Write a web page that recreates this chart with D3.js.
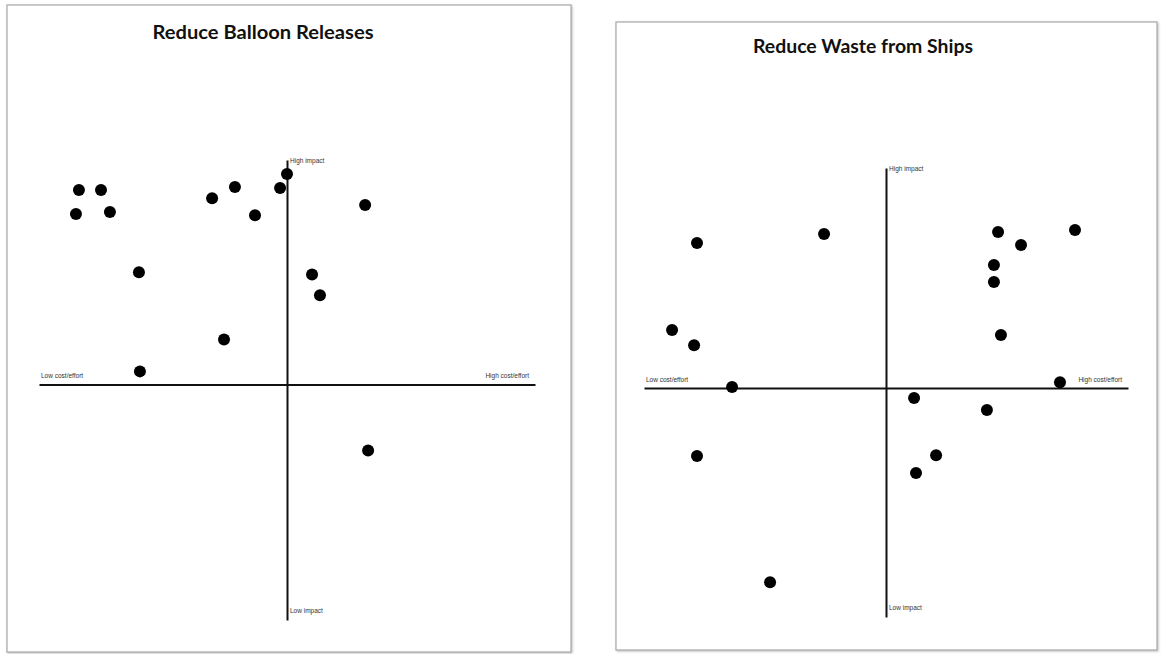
<!DOCTYPE html>
<html>
<head>
<meta charset="utf-8">
<script src="https://cdn.jsdelivr.net/npm/d3@7"></script>
<style>
  html, body { margin: 0; padding: 0; background: #fff; }
  svg { display: block; }
</style>
</head>
<body>
<svg id="chart" width="1164" height="654"></svg>
<script>
// ---- Data ----
const titles = ["Reduce Balloon Releases", "Reduce Waste from Ships"];
const axisLabels = { lowX: "Low cost/effort", highX: "High cost/effort", highY: "High impact", lowY: "Low impact" };

// Balloon releases: x = cost/effort, y = impact
const balloonX = [-8.39, -7.5, -8.51, -7.14, -5.97, -5.93, -3.02, -2.1, -1.29, -2.54, -0.28, 0.0, 1.01, 1.33, 3.15, 3.27];
const balloonY = [8.66, 8.66, 7.59, 7.68, 5.0, 0.58, 8.3, 8.8, 7.54, 2.0, 8.75, 9.38, 4.9, 3.97, 7.99, -2.95];

// Waste from ships
const shipsX = [-7.81, -2.56, -8.84, -7.93, -6.36, -7.81, -4.79, 1.16, 2.07, 1.24, 4.63, 5.58, 4.46, 4.46, 4.75, 7.81, 7.19, 4.17];
const shipsY = [6.59, 7.0, 2.64, 1.95, 0.05, -3.09, -8.82, -0.45, -3.05, -3.86, 7.09, 6.5, 5.59, 4.82, 2.41, 7.18, 0.27, -1.0];

const xDomain = [-10, 10];
const yDomainLeft = [-10.5, 10];
const yDomainRight = [-10.4, 10];

// ---- Layout ----
const panels = [
  { box: [7, 5, 564, 647], title: titles[0], titleX: 263, titleY: 39, titleW: 221,
    xr: [39, 535], yr: [620, 160], yDom: yDomainLeft, xs: balloonX, ys: balloonY },
  { box: [616, 22, 541, 628], title: titles[1], titleX: 863, titleY: 53, titleW: 220,
    xr: [644, 1128], yr: [617, 168], yDom: yDomainRight, xs: shipsX, ys: shipsY }
];

const svg = d3.select("#chart");
const defs = svg.append("defs");
const f = defs.append("filter").attr("id", "shadow").attr("x", "-5%").attr("y", "-5%").attr("width", "110%").attr("height", "110%");
f.append("feDropShadow").attr("dx", 1).attr("dy", 1).attr("stdDeviation", 1).attr("flood-color", "#999").attr("flood-opacity", 0.6);

panels.forEach(p => {
  const g = svg.append("g");
  const [bx, by, bw, bh] = p.box;
  g.append("rect").attr("x", bx).attr("y", by).attr("width", bw).attr("height", bh)
    .attr("fill", "#fff").attr("stroke", "#a8a8a8").attr("stroke-width", 1.2)
    .attr("filter", "url(#shadow)");

  g.append("text").attr("x", p.titleX).attr("y", p.titleY)
    .attr("text-anchor", "middle")
    .attr("font-family", "Lato, 'Open Sans', sans-serif").attr("font-weight", "bold")
    .attr("font-size", 18).attr("fill", "#111")
    .attr("textLength", p.titleW).attr("lengthAdjust", "spacingAndGlyphs")
    .text(p.title);

  const x = d3.scaleLinear().domain(xDomain).range(p.xr);
  const y = d3.scaleLinear().domain(p.yDom).range(p.yr);

  // axes through the origin
  const xAxis = d3.axisBottom(x).tickValues([]).tickSizeOuter(0);
  const yAxis = d3.axisRight(y).tickValues([]).tickSizeOuter(0);
  const gx = g.append("g").attr("transform", `translate(0,${y(0)})`).call(xAxis);
  const gy = g.append("g").attr("transform", `translate(${x(0)},0)`).call(yAxis);
  [gx, gy].forEach(a => a.select(".domain").attr("stroke", "#111").attr("stroke-width", 2));

  const lab = (tx, ty, t, anchor) => g.append("text").attr("x", tx).attr("y", ty)
    .attr("text-anchor", anchor || "start")
    .attr("font-family", "'Liberation Sans', sans-serif").attr("font-size", 6.5)
    .attr("fill", "#333").text(t);
  lab(x(-10) + 2, y(0) - 6, axisLabels.lowX);
  lab(x(10) - 6, y(0) - 6, axisLabels.highX, "end");
  lab(x(0) + 3, y(p.yDom[1]) + 3, axisLabels.highY);
  lab(x(0) + 3, y(p.yDom[0]) - 7, axisLabels.lowY);

  g.selectAll("circle.pt").data(p.xs.map((v, i) => [v, p.ys[i]])).join("circle")
    .attr("class", "pt")
    .attr("cx", d => x(d[0])).attr("cy", d => y(d[1])).attr("r", 6)
    .attr("fill", "#000");
});
</script>
</body>
</html>
